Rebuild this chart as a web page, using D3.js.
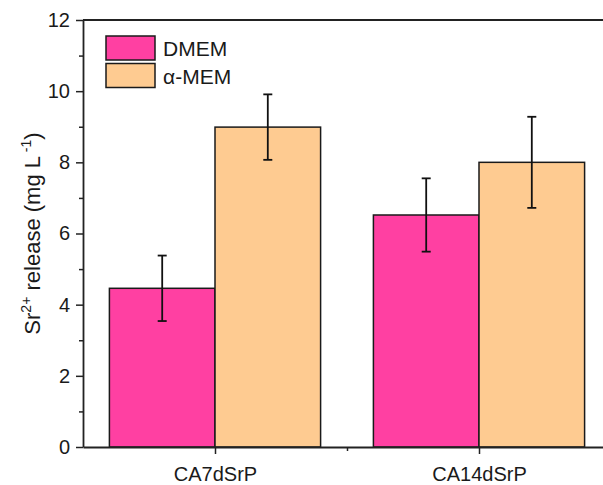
<!DOCTYPE html>
<html>
<head>
    <meta charset="utf-8">
    <style>
        body { margin: 0; background: #fff; }
        svg { font-family: Arial, "Liberation Sans", sans-serif; }
        .axis path, .axis line { stroke: #222; }
        .axis text { font-size: 20px; fill: #1a1a1a; }
        rect.bar { stroke: #1a1a1a; stroke-width: 1.5px; }
        line.err { stroke: #111; stroke-width: 1.8px; }
    </style>
</head>
<body>
<div id="chart"></div>
<script src="https://cdn.jsdelivr.net/npm/d3@7/dist/d3.min.js"></script>
<script>

    var categories = ["CA7dSrP", "CA14dSrP"];
    var seriesNames = ["DMEM", "\u03b1-MEM"];
    var seriesColors = ["#ff40a2", "#fecb91"];
    var dmemMeans = [4.46, 6.52];
    var dmemErrors = [0.92, 1.03];
    var amemMeans = [8.99, 8.00];
    var amemErrors = [0.92, 1.28];
    var yTicks = [0, 2, 4, 6, 8, 10, 12];

    var width = 603, height = 485;
    var plotLeft = 83, plotTop = 20, plotBottom = 447;

    var svg = d3.select("#chart").append("svg")
        .attr("width", width)
        .attr("height", height);

    // category 1 and 2 sit at x = 1, 2; frame runs 0.5 .. 2.5 (right edge is off-picture)
    var x = d3.scaleLinear().domain([0.5, 2.5]).range([plotLeft, plotLeft + 528]);
    var y = d3.scaleLinear().domain([0, 12]).range([plotBottom, plotTop]);

    var barW = 0.4;

    var bars = [];
    categories.forEach(function (c, i) {
        bars.push({cat: i + 1, off: -barW, mean: dmemMeans[i], err: dmemErrors[i], s: 0});
        bars.push({cat: i + 1, off: 0, mean: amemMeans[i], err: amemErrors[i], s: 1});
    });

    svg.selectAll("rect.bar")
        .data(bars)
        .enter()
        .append("rect")
        .attr("class", "bar")
        .attr("x", function (d) { return x(d.cat + d.off); })
        .attr("width", function (d) { return x(d.cat + d.off + barW) - x(d.cat + d.off); })
        .attr("y", function (d) { return y(d.mean); })
        .attr("height", function (d) { return y(0) - y(d.mean); })
        .attr("fill", function (d) { return seriesColors[d.s]; });

    // error bars
    var gErr = svg.append("g");
    bars.forEach(function (d) {
        var cx = x(d.cat + d.off + barW / 2);
        gErr.append("line").attr("class", "err")
            .attr("x1", cx).attr("x2", cx)
            .attr("y1", y(d.mean + d.err)).attr("y2", y(d.mean - d.err));
        [d.mean + d.err, d.mean - d.err].forEach(function (v) {
            gErr.append("line").attr("class", "err")
                .attr("x1", cx - 4.5).attr("x2", cx + 4.5)
                .attr("y1", y(v)).attr("y2", y(v));
        });
    });

    // top frame line
    svg.append("line")
        .attr("x1", x(0.5)).attr("x2", x(2.5))
        .attr("y1", y(12)).attr("y2", y(12))
        .attr("stroke", "#222").attr("stroke-width", 1.8);

    // y axis
    var yMinor = svg.append("g").attr("class", "axis")
        .attr("transform", "translate(" + plotLeft + ",0)")
        .call(d3.axisLeft(y).tickValues([1, 3, 5, 7, 9, 11]).tickSize(4).tickFormat(""));
    yMinor.select(".domain").remove();
    yMinor.selectAll("line").attr("stroke-width", 1.5);

    var yAxis = svg.append("g").attr("class", "axis")
        .attr("transform", "translate(" + plotLeft + ",0)")
        .call(d3.axisLeft(y).tickValues(yTicks).tickSize(7).tickSizeOuter(0).tickPadding(6));
    yAxis.select(".domain").attr("stroke-width", 1.8);
    yAxis.selectAll("line").attr("stroke-width", 1.5);

    // x axis
    var xMinor = svg.append("g").attr("class", "axis")
        .attr("transform", "translate(0," + plotBottom + ")")
        .call(d3.axisBottom(x).tickValues([1.5]).tickSize(4).tickFormat(""));
    xMinor.select(".domain").remove();
    xMinor.selectAll("line").attr("stroke-width", 1.5);

    var xAxis = svg.append("g").attr("class", "axis")
        .attr("transform", "translate(0," + plotBottom + ")")
        .call(d3.axisBottom(x).tickValues([1, 2]).tickSize(7).tickSizeOuter(0).tickPadding(13)
            .tickFormat(function (d) { return categories[d - 1]; }));
    xAxis.select(".domain").attr("stroke-width", 1.8);
    xAxis.selectAll("line").attr("stroke-width", 1.5);

    // y axis title
    var title = svg.append("text")
        .attr("transform", "translate(40," + ((plotTop + plotBottom) / 2) + ") rotate(-90)")
        .attr("text-anchor", "middle")
        .style("font-size", "22px")
        .attr("fill", "#1a1a1a");
    title.append("tspan").text("Sr");
    title.append("tspan").text("2+").attr("dy", -9).style("font-size", "14px");
    title.append("tspan").text(" release (mg L").attr("dy", 9);
    title.append("tspan").text(" -1").attr("dy", -9).style("font-size", "14px");
    title.append("tspan").text(")").attr("dy", 9);

    // legend
    var legend = svg.append("g").attr("transform", "translate(106,36)");
    seriesNames.forEach(function (name, i) {
        var g = legend.append("g").attr("transform", "translate(0," + (i * 27.5) + ")");
        g.append("rect")
            .attr("width", 49).attr("height", 24)
            .attr("fill", seriesColors[i])
            .attr("stroke", "#1a1a1a").attr("stroke-width", 1.5);
        g.append("text")
            .attr("x", 57).attr("y", 20)
            .style("font-size", "21px")
            .attr("fill", "#1a1a1a")
            .text(name);
    });

</script>
</body>
</html>
